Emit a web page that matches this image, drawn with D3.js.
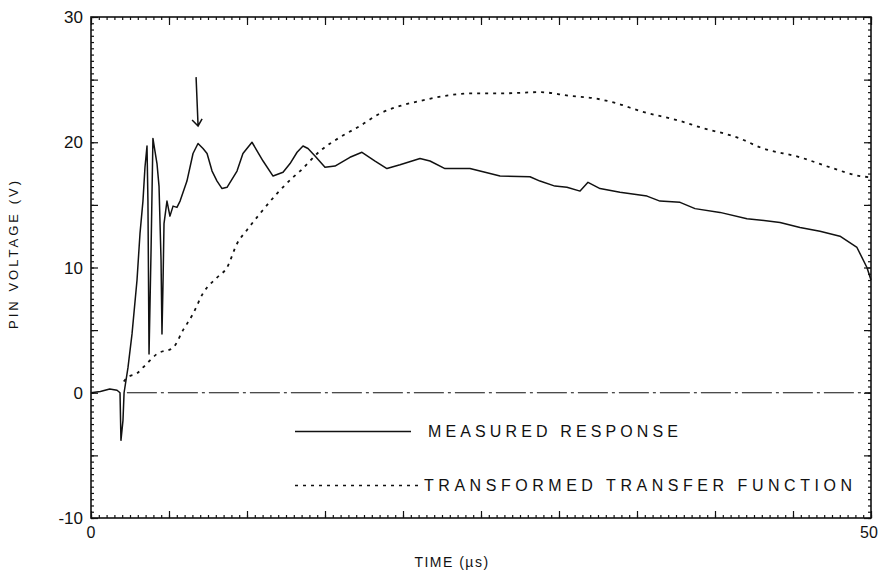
<!DOCTYPE html>
<html>
<head>
<meta charset="utf-8">
<script src="https://cdn.jsdelivr.net/npm/d3@7"></script>
<style>
  body { margin: 0; background: #fff; }
  text { font-family: "Liberation Sans", Arial, sans-serif; fill: #111; }
</style>
</head>
<body>
<div id="chart"></div>
<script>
// Pin voltage vs time: measured response and transformed transfer function

// DATA (time in microseconds, voltage in volts)
const measuredTime = [0, 0.6, 1.2, 1.67, 1.86, 1.92, 2.05, 2.12, 2.37, 2.63, 2.95, 3.14, 3.33, 3.46, 3.59,
  3.65, 3.72, 3.85, 3.97, 4.10, 4.23, 4.36, 4.49, 4.55, 4.62, 4.68, 4.87, 5.06, 5.26, 5.51, 5.71,
  6.15, 6.54, 6.86, 7.18, 7.44, 7.76, 8.08, 8.40, 8.72, 9.36, 9.74, 10.32, 11.03, 11.67, 12.31,
  12.76, 13.21, 13.59, 13.91, 14.36, 15.0, 15.64, 16.60, 17.37, 18.21, 18.97, 19.81, 21.09, 21.73,
  22.69, 24.29, 25.26, 26.22, 28.14, 28.78, 29.74, 30.51, 31.35, 31.86, 32.63, 33.91, 35.64,
  36.47, 37.76, 38.72, 40.32, 42.05, 44.17, 45.45, 46.73, 48.01, 49.10, 49.74, 50]
const measuredVolt = [0, 0.1, 0.3, 0.2, 0, -3.8, -2.2, 0, 2.0, 4.7, 9.0, 12.7, 15.3, 18.0, 19.7,
  15.3, 3.1, 11.4, 20.3, 19.3, 18.3, 16.5, 10.6, 4.7, 9.0, 13.5, 15.3, 14.1, 14.9, 14.8, 15.3,
  16.9, 19.1, 19.9, 19.5, 19.1, 17.7, 16.9, 16.3, 16.4, 17.7, 19.1, 20.0, 18.5, 17.3, 17.6,
  18.3, 19.2, 19.7, 19.5, 18.9, 18.0, 18.1, 18.8, 19.2, 18.5, 17.9, 18.2, 18.7, 18.5,
  17.9, 17.9, 17.6, 17.3, 17.25, 16.9, 16.5, 16.4, 16.1, 16.8, 16.3, 16.0, 15.7,
  15.3, 15.2, 14.7, 14.4, 13.9, 13.6, 13.2, 12.9, 12.5, 11.6, 10.0, 9.0]

const transferTime = [2.1, 2.31, 2.95, 3.59, 4.23, 5.26, 5.90, 6.54, 7.18, 8.08, 8.72, 9.36, 10.0,
  10.83, 11.92, 12.95, 13.40, 14.68, 15.96, 17.24, 18.53, 19.81, 21.09, 22.69, 24.29, 26.22,
  28.78, 30.71, 32.31, 33.72, 35.19, 37.76, 39.04, 41.60, 42.88, 45.45, 47.37, 49.29, 50]
const transferVolt = [0.9, 1.2, 1.55, 2.35, 3.1, 3.6, 5.0, 6.3, 7.95, 9.2, 10.0, 11.9, 13.0,
  14.3, 15.9, 17.2, 17.7, 19.3, 20.4, 21.3, 22.3, 22.9, 23.3, 23.7, 23.9, 23.9,
  24.0, 23.7, 23.5, 23.1, 22.5, 21.7, 21.2, 20.3, 19.6, 18.8, 18.0, 17.3, 17.2]

const zeroLine = [[2.3, 0], [50, 0]]
const arrowTime = 6.8
const arrowVolts = [25.2, 21.3]

const timeTickLabels = [0, 50]
const voltTickLabels = [-10, 0, 10, 20, 30]
const legendLabels = ["MEASURED RESPONSE", "TRANSFORMED TRANSFER FUNCTION"]

const OUTER_WIDTH = 880
const OUTER_HEIGHT = 576
const MARGIN = {TOP: 17, RIGHT: 9, BOTTOM: 58, LEFT: 91}
const INNER_WIDTH = OUTER_WIDTH - MARGIN.LEFT - MARGIN.RIGHT
const INNER_HEIGHT = OUTER_HEIGHT - MARGIN.TOP - MARGIN.BOTTOM

const svg = d3.select("#chart")
  .append("svg")
    .attr("width", OUTER_WIDTH)
    .attr("height", OUTER_HEIGHT)
  .append("g")
    .attr("transform", "translate(" + MARGIN.LEFT + "," + MARGIN.TOP + ")")

let xScale = d3.scaleLinear().domain([0, 50]).range([0, INNER_WIDTH])
let yScale = d3.scaleLinear().domain([-10, 30]).range([INNER_HEIGHT, 0])

// AXES: inward ticks on all four sides, minor every 0.5
const xMinor = d3.range(0, 50.01, 0.5)
const xMajor = d3.range(0, 50.01, 5)
const yMinor = d3.range(-10, 30.01, 0.5)
const yMajor = d3.range(-10, 30.01, 5)

function tickGroup(axisFn, scale, values, size, transform) {
  svg.append("g")
    .attr("transform", transform)
    .call(axisFn(scale).tickValues(values).tickSize(size).tickFormat(""))
    .call(g => g.select(".domain").remove())
    .selectAll("line").attr("stroke", "#111").attr("stroke-width", 1.2)
}

tickGroup(d3.axisBottom, xScale, xMinor, -3, "translate(0," + INNER_HEIGHT + ")")
tickGroup(d3.axisBottom, xScale, xMajor, -7, "translate(0," + INNER_HEIGHT + ")")
tickGroup(d3.axisTop, xScale, xMinor, -3, "translate(0,0)")
tickGroup(d3.axisTop, xScale, xMajor, -8, "translate(0,0)")
tickGroup(d3.axisLeft, yScale, yMinor, -3, "translate(0,0)")
tickGroup(d3.axisLeft, yScale, yMajor, -7, "translate(0,0)")
tickGroup(d3.axisRight, yScale, yMinor, -3, "translate(" + INNER_WIDTH + ",0)")
tickGroup(d3.axisRight, yScale, yMajor, -7, "translate(" + INNER_WIDTH + ",0)")

svg.append("rect")
  .attr("width", INNER_WIDTH)
  .attr("height", INNER_HEIGHT)
  .attr("fill", "none")
  .attr("stroke", "#111")
  .attr("stroke-width", 1.6)

// tick labels
svg.selectAll("yLabels")
  .data(voltTickLabels)
  .enter()
  .append("text")
    .attr("x", -8)
    .attr("y", v => yScale(v))
    .attr("dy", "0.36em")
    .attr("text-anchor", "end")
    .style("font-size", "17px")
    .text(v => v)

svg.selectAll("xLabels")
  .data(timeTickLabels)
  .enter()
  .append("text")
    .attr("x", t => xScale(t) - (t === 50 ? 2 : 0))
    .attr("y", INNER_HEIGHT + 20)
    .attr("text-anchor", "middle")
    .style("font-size", "16px")
    .text(t => t)

svg.append("text")
  .attr("x", INNER_WIDTH / 2 - 29)
  .attr("y", INNER_HEIGHT + 49)
  .attr("text-anchor", "middle")
  .style("font-size", "14px")
  .style("letter-spacing", "1.5px")
  .text("TIME (\u00b5s)")

svg.append("text")
  .attr("transform", "translate(" + (-73) + "," + (yScale(11)) + ") rotate(-90)")
  .attr("text-anchor", "middle")
  .attr("textLength", 148)
  .attr("lengthAdjust", "spacing")
  .style("font-size", "13px")
  .text("PIN VOLTAGE (V)")

// CURVES
const line = d3.line()
  .x(d => xScale(d[0]))
  .y(d => yScale(d[1]))

svg.append("path")
  .datum(zeroLine)
  .attr("d", line)
  .attr("fill", "none")
  .attr("stroke", "#111")
  .attr("stroke-width", 1.2)
  .attr("stroke-dasharray", "30 4 3 4")

svg.append("path")
  .datum(d3.zip(transferTime, transferVolt))
  .attr("d", line.curve(d3.curveMonotoneX))
  .attr("fill", "none")
  .attr("stroke", "#111")
  .attr("stroke-width", 1.8)
  .attr("stroke-dasharray", "3 5")

svg.append("path")
  .datum(d3.zip(measuredTime, measuredVolt))
  .attr("d", d3.line().x(d => xScale(d[0])).y(d => yScale(d[1])))
  .attr("fill", "none")
  .attr("stroke", "#111")
  .attr("stroke-width", 1.5)
  .attr("stroke-linejoin", "round")

// arrow annotation
const ax = xScale(arrowTime)
svg.append("path")
  .attr("d", ["M", ax - 1, yScale(arrowVolts[0]), "L", ax + 1, yScale(arrowVolts[1]),
    "M", ax - 5, yScale(arrowVolts[1]) - 6, "L", ax + 1, yScale(arrowVolts[1]),
    "L", ax + 5, yScale(arrowVolts[1]) - 7].join(" "))
  .attr("fill", "none")
  .attr("stroke", "#111")
  .attr("stroke-width", 1.5)

// LEGEND
const legendY = [yScale(-3.1), yScale(-7.4)]
const legendDash = [null, "3 5"]
const legendTextWidth = [250, 428]
legendLabels.forEach((label, i) => {
  svg.append("line")
    .attr("x1", 204).attr("x2", 320 + i * 7)
    .attr("y1", legendY[i]).attr("y2", legendY[i])
    .attr("stroke", "#111")
    .attr("stroke-width", 1.5)
    .attr("stroke-dasharray", legendDash[i])
  svg.append("text")
    .attr("x", 337 - i * 4)
    .attr("y", legendY[i])
    .attr("dy", "0.36em")
    .attr("textLength", legendTextWidth[i])
    .attr("lengthAdjust", "spacing")
    .style("font-size", "16px")
    .text(label)
})
</script>
</body>
</html>
